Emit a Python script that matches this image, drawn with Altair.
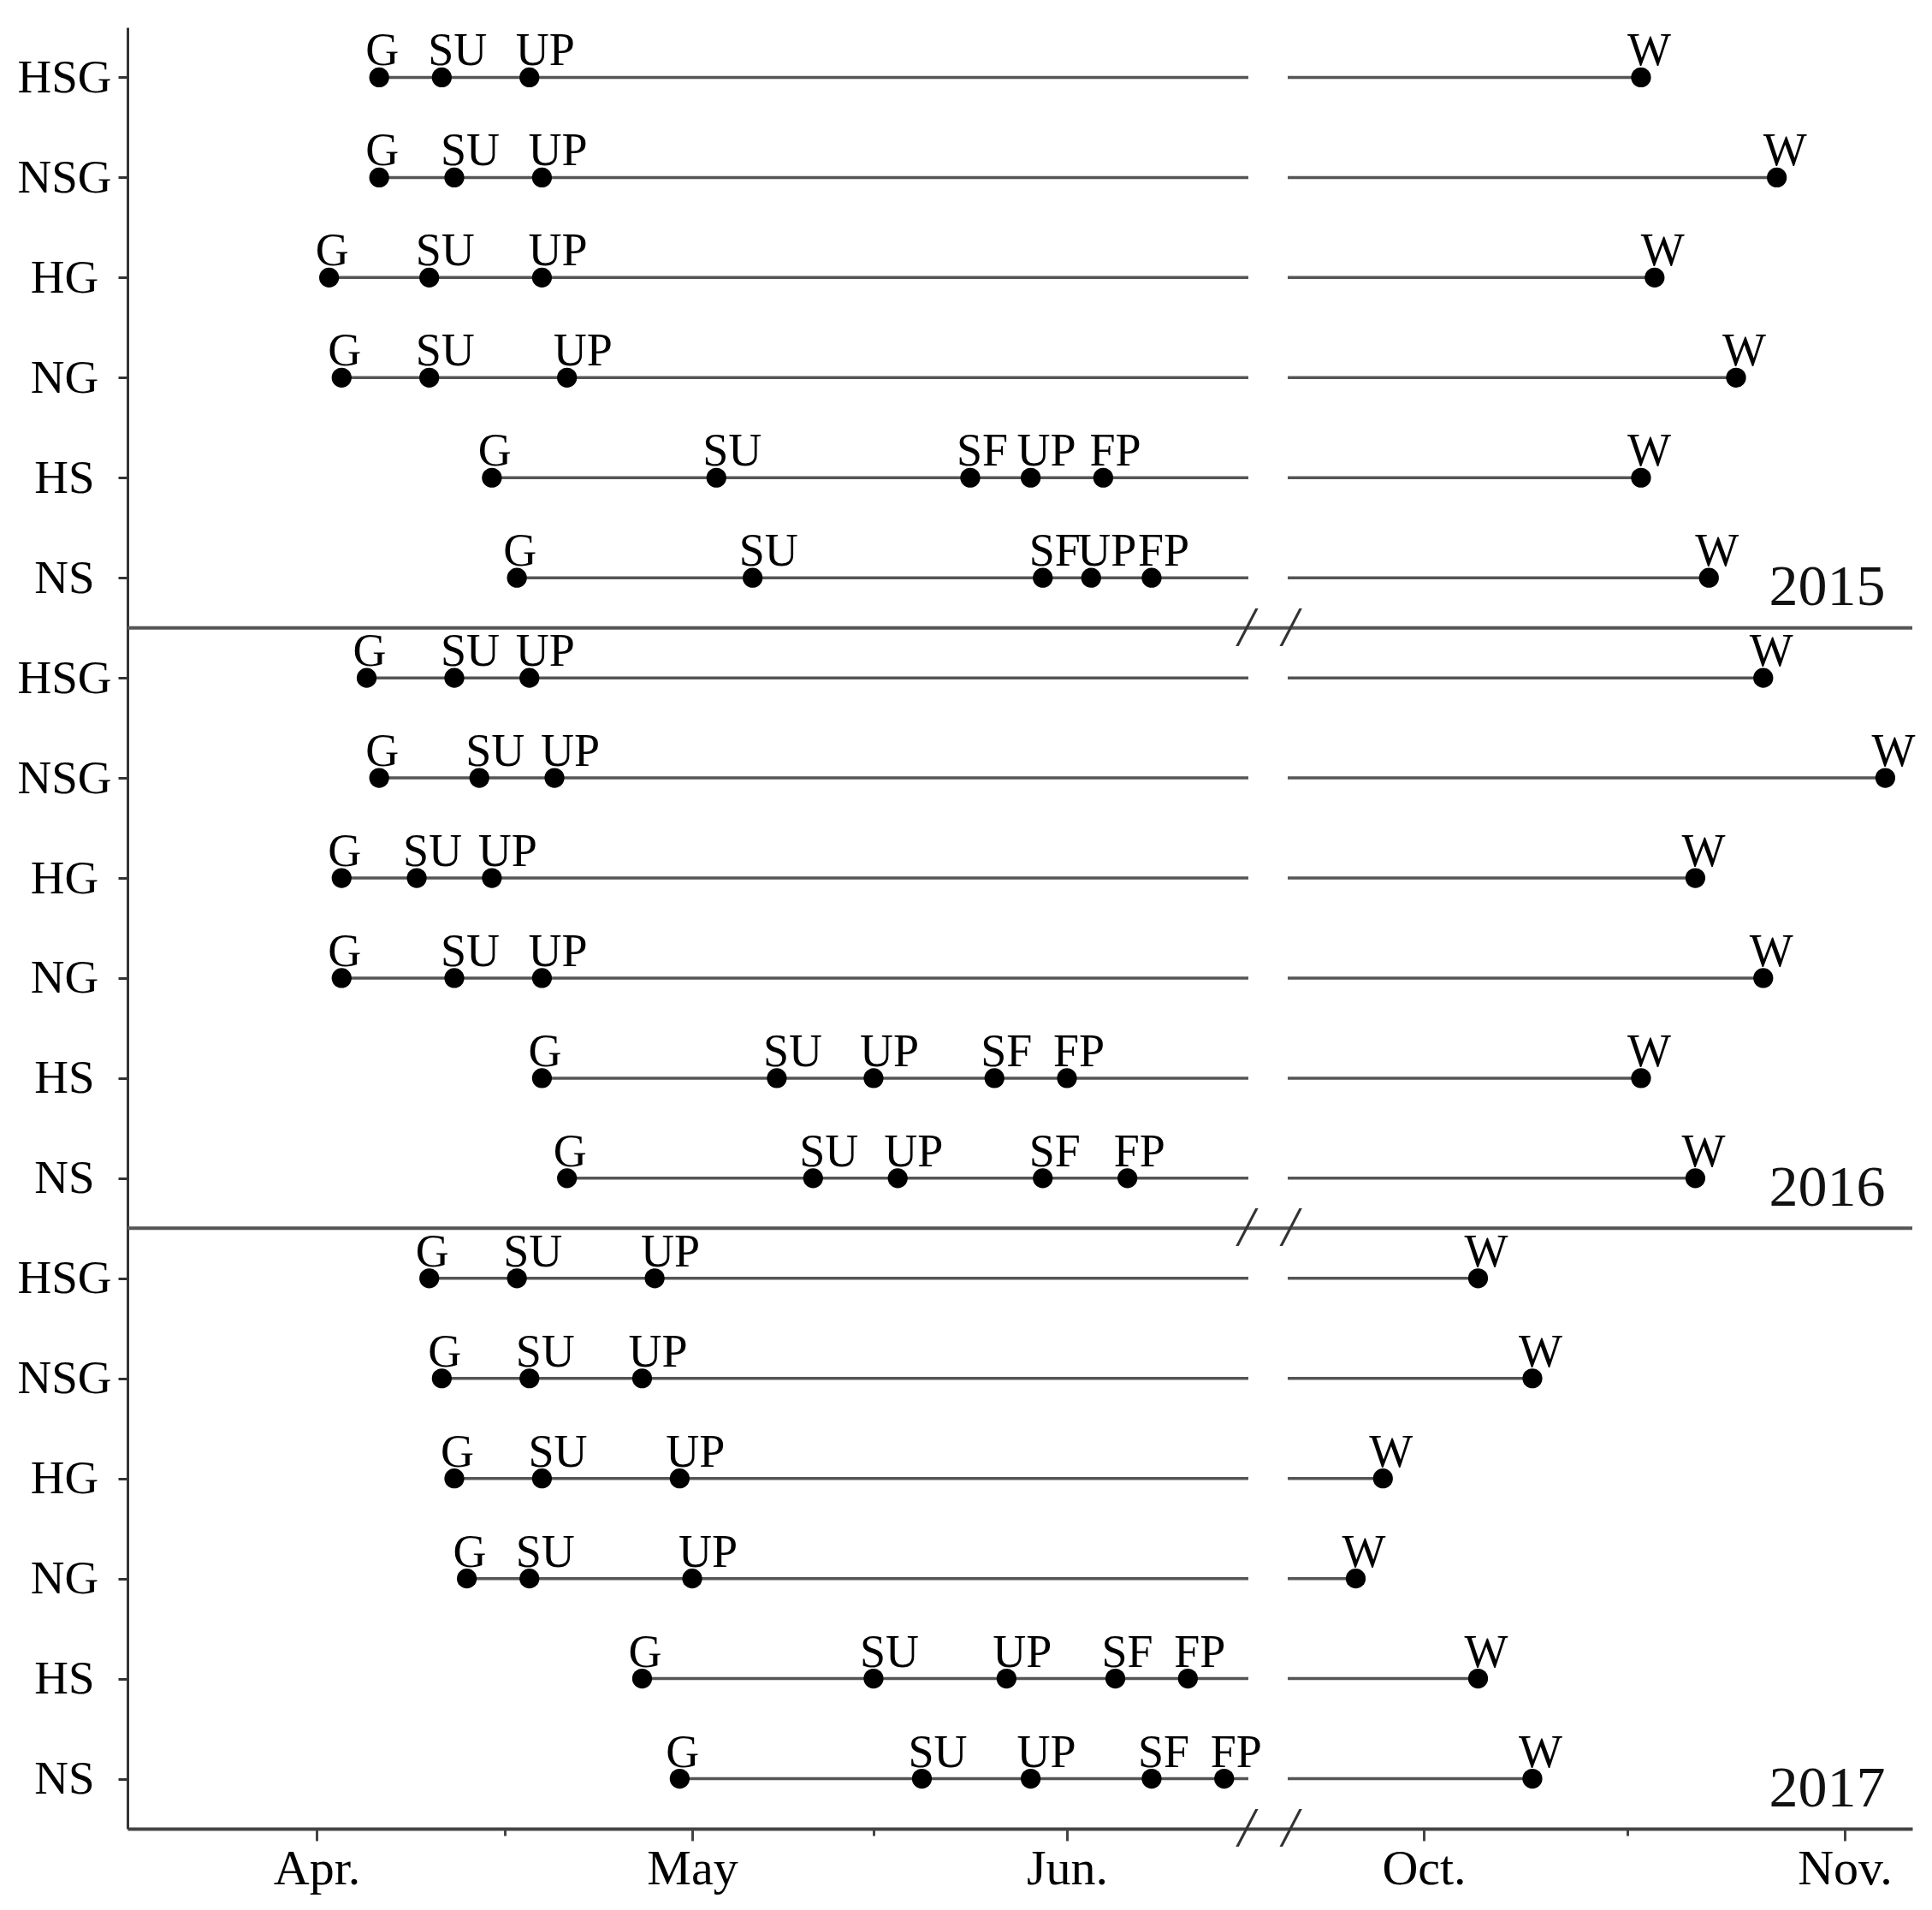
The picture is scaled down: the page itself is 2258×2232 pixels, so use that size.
import json
import pandas as pd
import altair as alt

# ---------------- data ----------------
CATEGORIES = ["HSG", "NSG", "HG", "NG", "HS", "NS"]
YEARS = ["2015", "2016", "2017"]
STAGES = ["G", "SU", "UP", "SF", "FP", "W"]

# one entry per row: 2015 HSG..NS, 2016 HSG..NS, 2017 HSG..NS  (month-day)
G = ["04-06", "04-06", "04-02", "04-03", "04-15", "04-17",
     "04-05", "04-06", "04-03", "04-03", "04-19", "04-21",
     "04-10", "04-11", "04-12", "04-13", "04-27", "04-30"]
SU = ["04-11", "04-12", "04-10", "04-10", "05-03", "05-06",
      "04-12", "04-14", "04-09", "04-12", "05-08", "05-11",
      "04-17", "04-18", "04-19", "04-18", "05-16", "05-20"]
UP = ["04-18", "04-19", "04-19", "04-21", "05-29", "06-03",
      "04-18", "04-20", "04-15", "04-19", "05-16", "05-18",
      "04-28", "04-27", "04-30", "05-01", "05-27", "05-29"]
SF = [None, None, None, None, "05-24", "05-30",
      None, None, None, None, "05-26", "05-30",
      None, None, None, None, "06-05", "06-08"]
FP = [None, None, None, None, "06-04", "06-08",
      None, None, None, None, "06-01", "06-06",
      None, None, None, None, "06-11", "06-14"]
W = ["10-17", "10-27", "10-18", "10-24", "10-17", "10-22",
     "10-26", "11-04", "10-21", "10-26", "10-17", "10-21",
     "10-05", "10-09", "09-28", "09-26", "10-05", "10-09"]

STAGE_VALUES = {"G": G, "SU": SU, "UP": UP, "SF": SF, "FP": FP, "W": W}

AXIS_TICK_DATES = ["04-01", "04-16", "05-01", "05-16", "06-01", "10-01", "10-16", "11-01"]
AXIS_TICK_LABELS = ["Apr.", "", "May", "", "Jun.", "Oct.", "", "Nov."]

# broken axis: left part ends, right part starts
BREAK_LEFT = "06-16"
BREAK_RIGHT = "09-21"
YEAR_LABEL_DATE = "11-04"

# piecewise scale (hand-drawn broken axis)
SCALE_DATES = ["03-17", "04-01", "05-01", "06-01", "06-16", "09-21", "10-01", "11-01", "11-06"]
SCALE_PIXELS = [0, 221, 660, 1098, 1310, 1356, 1515, 2007, 2086]

PLOT_W = 2086
PLOT_H = 2105
FONT = "Liberation Serif"


def doy(md):
    return int(pd.Timestamp("2015-" + md).dayofyear)


n_rows = len(YEARS) * len(CATEGORIES)

pts = []
for s in STAGES:
    for i, v in enumerate(STAGE_VALUES[s]):
        if v is not None:
            pts.append({"row": i, "stage": s, "day": doy(v)})
points_df = pd.DataFrame(pts)

segs = []
for i in range(n_rows):
    segs.append({"row": i, "x0": doy(G[i]), "x1": doy(BREAK_LEFT)})
    segs.append({"row": i, "x0": doy(BREAK_RIGHT), "x1": doy(W[i])})
segs_df = pd.DataFrame(segs)

dom = [doy(d) for d in SCALE_DATES]
sep_df = pd.DataFrame({
    "row": [len(CATEGORIES) * k - 0.5 for k in range(1, len(YEARS))],
    "x0": [dom[0]] * (len(YEARS) - 1),
    "x1": [dom[-1]] * (len(YEARS) - 1),
})

break_x = (doy(BREAK_LEFT) + doy(BREAK_RIGHT)) / 2
breaks_df = pd.DataFrame({
    "row": [len(CATEGORIES) * k - 0.5 for k in range(1, len(YEARS) + 1)],
    "day": [break_x] * len(YEARS),
})

years_df = pd.DataFrame({
    "year": YEARS,
    "row": [len(CATEGORIES) * (k + 1) - 1 for k in range(len(YEARS))],
    "day": [doy(YEAR_LABEL_DATE)] * len(YEARS),
})

# ---------------- scales & axes ----------------
xscale = alt.Scale(domain=dom, range=SCALE_PIXELS, nice=False, zero=False)
yscale = alt.Scale(domain=[-0.5, n_rows - 0.5], reverse=True, nice=False, zero=False)

tick_days = [doy(d) for d in AXIS_TICK_DATES]
label_expr = ""
for d, lab in zip(tick_days, AXIS_TICK_LABELS):
    label_expr += f"datum.value == {d} ? '{lab}' : "
label_expr += "''"
minor_days = [d for d, lab in zip(tick_days, AXIS_TICK_LABELS) if lab == ""]
minor_test = f"indexof({json.dumps(minor_days)}, datum.value) >= 0"

x_axis = alt.Axis(
    values=tick_days, labelExpr=label_expr,
    tickSize={"condition": {"test": minor_test, "value": 8}, "value": 14},
    labelFont=FONT, labelFontSize=58, labelPadding=4, labelColor="black",
    domainColor="#444", domainWidth=4, tickColor="#444", tickWidth=3,
    grid=False, title=None, labelFlush=False, labelOverlap=False,
)
y_axis = alt.Axis(
    values=list(range(n_rows)),
    labelExpr=f"{json.dumps(CATEGORIES)}[datum.value % {len(CATEGORIES)}]",
    tickSize=11, labelAlign="center", labelBaseline="middle", labelPadding=63,
    labelFont=FONT, labelFontSize=55, labelColor="black",
    domainColor="#333", domainWidth=3, tickColor="#333", tickWidth=3,
    grid=False, title=None, labelOverlap=False,
)


def X(field):
    return alt.X(field, type="quantitative", scale=xscale, axis=x_axis)


def Y(field):
    return alt.Y(field, type="quantitative", scale=yscale, axis=y_axis)


# ---------------- layers ----------------
separators = alt.Chart(sep_df).mark_rule(color="#555", strokeWidth=4).encode(
    x=X("x0"), x2="x1", y=Y("row"),
)

lines = alt.Chart(segs_df).mark_rule(color="#555", strokeWidth=3.5).encode(
    x=X("x0"), x2="x1", y=Y("row"),
)

dots = alt.Chart(points_df).mark_circle(size=540, color="black", opacity=1).encode(
    x=X("day"), y=Y("row"),
)

labels = alt.Chart(points_df).mark_text(
    align="left", baseline="alphabetic", dx=-16, dy=-14,
    font=FONT, fontSize=54, color="black",
).encode(
    x=X("day"), y=Y("row"), text="stage:N",
)

year_labels = alt.Chart(years_df).mark_text(
    align="right", baseline="middle", dy=12,
    font=FONT, fontSize=68, color="#111",
).encode(
    x=X("day"), y=Y("row"), text="year:N",
)

break_marks = alt.Chart(breaks_df).mark_text(
    text="/\u2002/", align="center", baseline="middle",
    font=FONT, fontSize=66, fontStyle="italic", color="#333",
).encode(
    x=X("day"), y=Y("row"),
)

chart = alt.layer(
    separators, lines, dots, labels, year_labels, break_marks
).properties(
    width=PLOT_W, height=PLOT_H,
    padding={"left": 11, "top": 24, "right": 5, "bottom": 5},
    background="white",
).configure_view(strokeWidth=0)

chart.save("out.html", embed_options={"renderer": "svg", "actions": False})
